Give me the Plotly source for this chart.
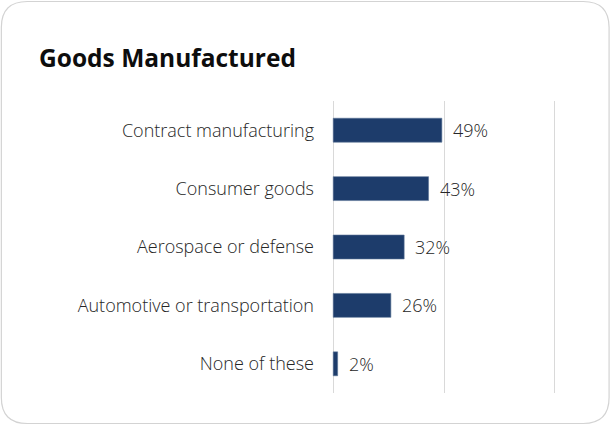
import plotly.graph_objects as go

# Survey results: share of respondents by goods manufactured
categories = [
    "Contract manufacturing",
    "Consumer goods",
    "Aerospace or defense",
    "Automotive or transportation",
    "None of these",
]
shares = [0.49, 0.43, 0.32, 0.26, 0.02]
value_labels = ["49%", "43%", "32%", "26%", "2%"]

W, H = 611, 425
L, R, T, B = 331.3, 44.6, 101, 32
PW, PH = W - L - R, H - T - B

BAR = "#1d3c6b"
TXT = "#262626"
FONT = "Open Sans"


def px_to_paper(x, y):
    return (x - L) / PW, (H - B - y) / PH


def rounded_rect(x0, y0, x1, y1, r):
    def P(x, y):
        a, b = px_to_paper(x, y)
        return f"{a:.5f},{b:.5f}"
    return (
        f"M {P(x0 + r, y0)} L {P(x1 - r, y0)} Q {P(x1, y0)} {P(x1, y0 + r)} "
        f"L {P(x1, y1 - r)} Q {P(x1, y1)} {P(x1 - r, y1)} "
        f"L {P(x0 + r, y1)} Q {P(x0, y1)} {P(x0, y1 - r)} "
        f"L {P(x0, y0 + r)} Q {P(x0, y0)} {P(x0 + r, y0)} Z"
    )


fig = go.Figure(
    go.Bar(
        x=shares,
        y=categories,
        orientation="h",
        width=0.41,
        marker=dict(color=BAR, line=dict(color="#5b7396", width=0.6)),
        hoverinfo="skip",
    )
)

for cat, v, lab in zip(categories, shares, value_labels):
    fig.add_annotation(
        x=v, y=cat, text=lab, showarrow=False, xanchor="left", xshift=9,
        font=dict(family=FONT, size=18, color=TXT, weight=300),
    )

fig.add_shape(
    type="path", xref="paper", yref="paper", layer="below",
    path=rounded_rect(1.5, 1.5, 609.5, 423.5, 26),
    line=dict(color="#d3d3d3", width=1.2), fillcolor="white",
)

fig.update_layout(
    width=W, height=H,
    margin=dict(l=L, r=R, t=T, b=B, pad=0),
    paper_bgcolor="white", plot_bgcolor="rgba(0,0,0,0)",
    showlegend=False,
    title=dict(
        text="<b>Goods Manufactured</b>",
        x=39 / W, xanchor="left", xref="container",
        y=1 - 58 / H, yanchor="middle", yref="container",
        font=dict(family=FONT, size=24.5, color="#0d0d0d"),
    ),
    xaxis=dict(
        range=[-0.01, 1.05], dtick=0.5, tick0=0, showgrid=True,
        gridcolor="#d9d9d9", gridwidth=1, zeroline=False,
        showticklabels=False, ticks="", showline=False, fixedrange=True,
    ),
    yaxis=dict(
        autorange="reversed", showgrid=False, zeroline=False, showline=False,
        ticks="", ticklabelstandoff=16,
        tickfont=dict(family=FONT, size=18, color=TXT, weight=300),
        fixedrange=True,
    ),
)

fig.write_html("out.html", config={"displayModeBar": False})
